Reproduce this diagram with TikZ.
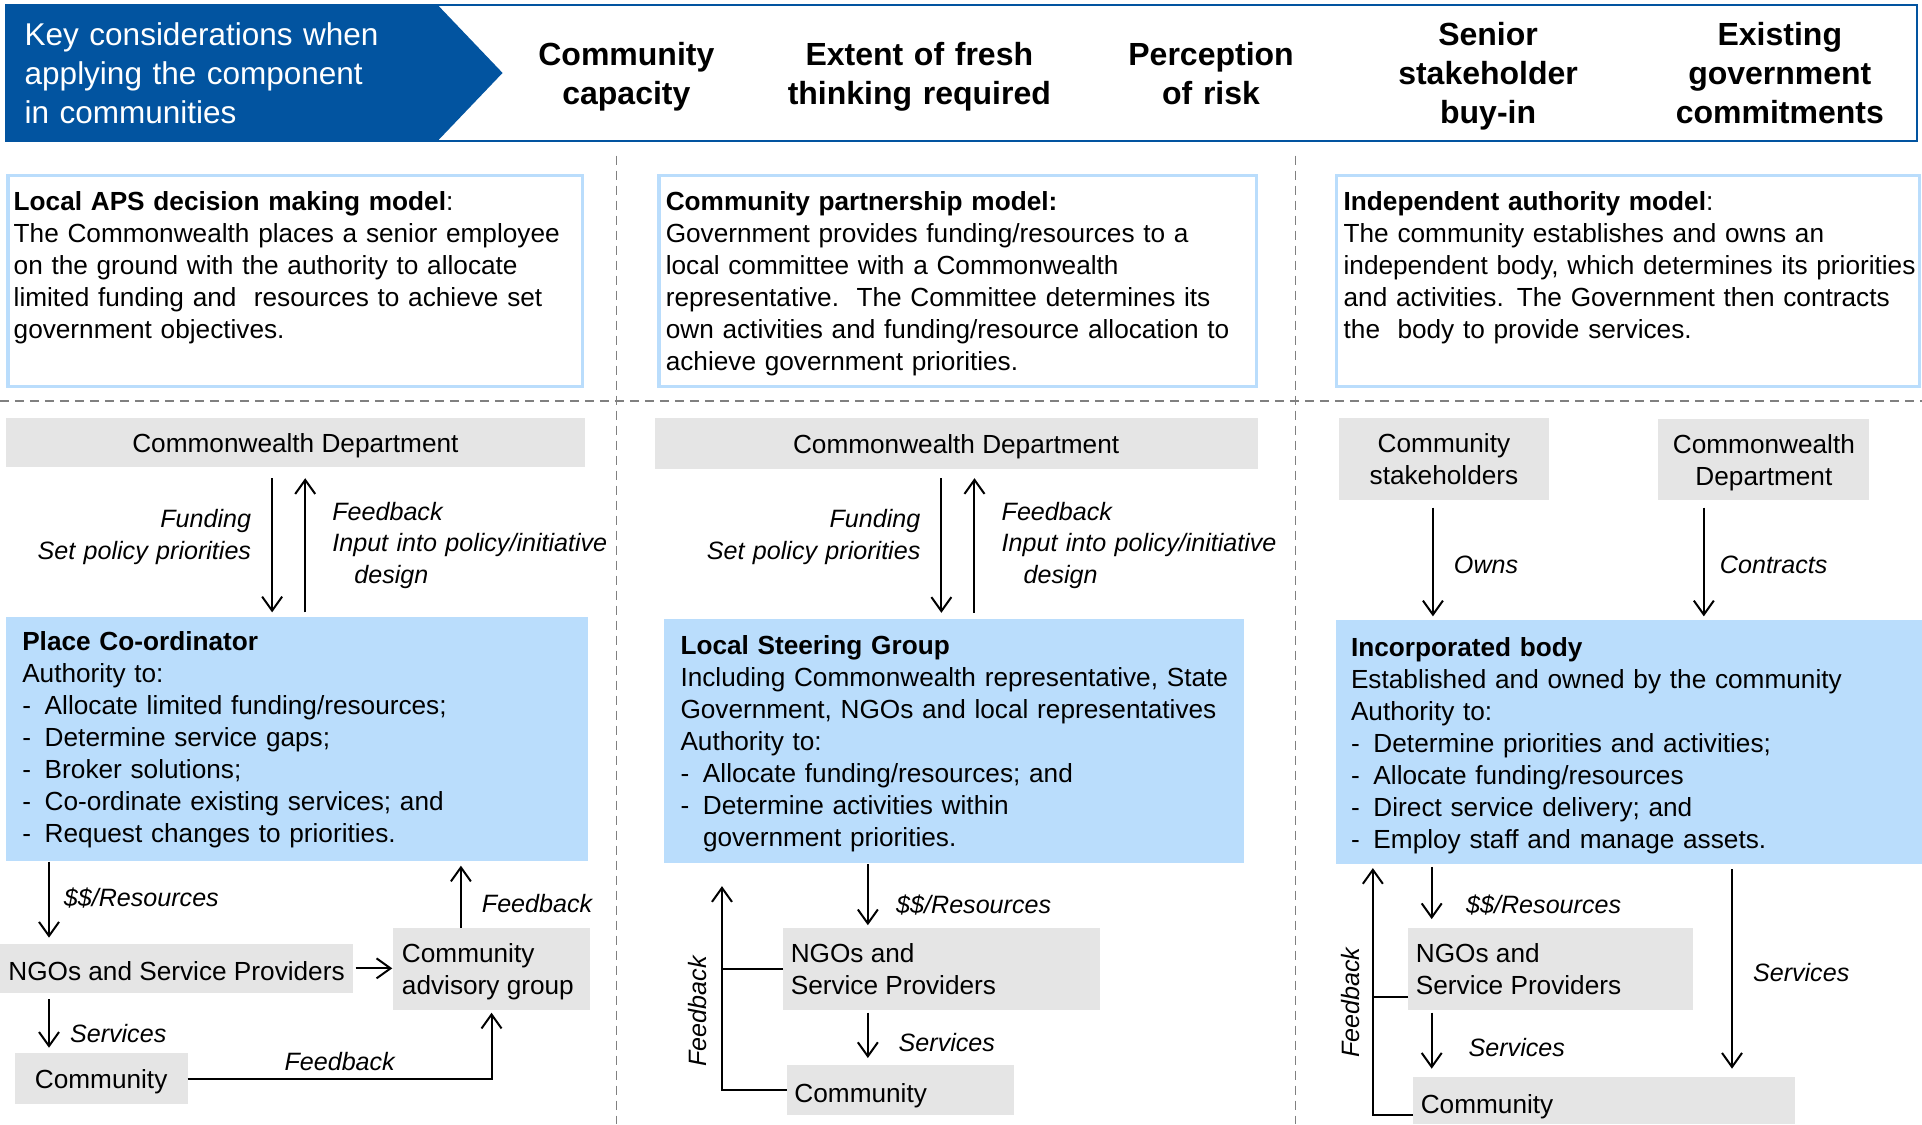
\documentclass[tikz,border=0pt]{standalone}
\usepackage{fontspec}
\setmainfont{Liberation Sans}
\usetikzlibrary{arrows.meta,fit}

\definecolor{hdrblue}{RGB}{2,84,160}
\definecolor{paleblue}{RGB}{186,221,252}
\definecolor{boxgray}{RGB}{229,229,229}
\definecolor{dashgray}{RGB}{128,128,128}

\newcommand\dashitem[1]{\makebox[22.5pt][l]{-}#1}

\tikzset{
  graybox/.style={fill=boxgray, inner sep=0pt},
  bluebox/.style={fill=paleblue, inner sep=0pt},
  descbox/.style={draw=paleblue, line width=3.3pt, fill=white, inner sep=0pt},
  bodytext/.style={font=\fontsize{26.2pt}{32pt}\selectfont, inner sep=0pt, align=left, anchor=base west},
  boxlabel/.style={font=\fontsize{26.2pt}{32pt}\selectfont, inner sep=0pt, align=center},
  boxlabelleft/.style={font=\fontsize{26.2pt}{32pt}\selectfont, inner sep=0pt, align=left, anchor=west},
  lbl/.style={font=\fontsize{25.1pt}{31.5pt}\selectfont\itshape, inner sep=0pt, anchor=base west},
  colhdr/.style={font=\fontsize{32pt}{38.6pt}\selectfont\bfseries, inner sep=0pt, align=center, anchor=base, text width=270pt},
  arr/.style={line width=2pt, -{Straight Barb[length=14pt,width=20pt]}},
  link/.style={line width=2pt},
  divider/.style={dashgray, line width=1.6pt, dash pattern=on 9pt off 6pt},
}

\begin{document}
\begin{tikzpicture}[x=1.2258pt, y=-1.2258pt]
\useasboundingbox (0,0) rectangle (1568,917);
\fill[white] (0,0) rectangle (1568,917);

% ---------- header band ----------
\node[fit={(5,4) (1564,115)}, draw=hdrblue, line width=2.5pt, inner sep=0pt] (band) {};
\fill[hdrblue] (5,4) -- (357,4) -- (410,59.5) -- (357,115) -- (5,115) -- cycle;
\node[inner sep=0pt, anchor=base west, align=left, text width=420pt, text=white,
      font=\fontsize{31.5pt}{38.6pt}\selectfont] (keyt) at (20,37.4)
  {Key considerations when\\applying the component\\in communities};
\node[colhdr] (h1) at (511,53.4) {Community\\capacity};
\node[colhdr] (h2) at (750,53.4) {Extent of fresh\\thinking required};
\node[colhdr] (h3) at (988,53.4) {Perception\\of risk};
\node[colhdr] (h4) at (1214,37.4) {Senior\\stakeholder\\buy-in};
\node[colhdr] (h5) at (1452,37.4) {Existing\\government\\commitments};

% ---------- dividers ----------
\draw[divider] (503,127) -- (503,917);
\draw[divider] (1057,127) -- (1057,917);
\draw[divider] (0,327) -- (1568,327);

% ---------- model descriptions ----------
\node[descbox, fit={(6.5,143) (475,315.5)}] (d1) {};
\node[descbox, fit={(537.5,143) (1025,315.5)}] (d2) {};
\node[descbox, fit={(1090.5,143) (1566,315.5)}] (d3) {};
\node[bodytext, text width=640pt] (d1t) at (11,171.8)
  {\textbf{Local APS decision making model}:\\
   The Commonwealth places a senior employee\\
   on the ground with the authority to allocate\\
   limited funding and\ \ resources to achieve set\\
   government objectives.};
\node[bodytext, text width=640pt] (d2t) at (543,171.8)
  {\textbf{Community partnership model:}\\
   Government provides funding/resources to a\\
   local committee with a Commonwealth\\
   representative.\ \ The Committee determines its\\
   own activities and funding/resource allocation to\\
   achieve government priorities.};
\node[bodytext, text width=640pt] (d3t) at (1096,171.8)
  {\textbf{Independent authority model}:\\
   The community establishes and owns an\\
   independent body, which determines its priorities\\
   and activities. The Government then contracts\\
   the\ \ body to provide services.};

% ---------- column 1: local APS decision making ----------
\node[graybox, fit={(5,341) (477,381)}] (cd1) {};
\node[boxlabel] (cd1t) at ([yshift=-3.5pt]cd1.center) {Commonwealth Department};
\node[bluebox, fit={(5,503) (480,702)}] (pc) {};
\node[bodytext, text width=600pt] (pct) at (18,530.8)
  {\textbf{Place Co-ordinator}\\
   Authority to:\\
   \dashitem{Allocate limited funding/resources;}\\
   \dashitem{Determine service gaps;}\\
   \dashitem{Broker solutions;}\\
   \dashitem{Co-ordinate existing services; and}\\
   \dashitem{Request changes to priorities.}};
\node[graybox, fit={(0,770) (288,810)}] (ngo1) {};
\node[boxlabel] (ngo1t) at ([yshift=-2.5pt]ngo1.center) {NGOs and Service Providers};
\node[graybox, fit={(321,757) (481,824)}] (cag) {};
\node[boxlabelleft] (cagt) at ([xshift=8.5pt,yshift=-2.5pt]cag.west) {Community\\advisory group};
\node[graybox, fit={(12,859) (153,901)}] (com1) {};
\node[boxlabel] (com1t) at ([yshift=-3.5pt]com1.center) {Community};

\coordinate (a1) at (222,0);
\coordinate (b1) at (249,0);
\coordinate (c1) at (40,0);
\coordinate (e1) at (376,0);
\draw[arr, shorten <=11pt, shorten >=4pt] (cd1.south -| a1) -- (pc.north -| a1);
\draw[arr, shorten <=4pt, shorten >=11pt] (pc.north -| b1) -- (cd1.south -| b1);
\draw[arr, shorten <=1pt, shorten >=6pt] (pc.south -| c1) -- (ngo1.north -| c1);
\draw[arr, shorten <=2.5pt, shorten >=1pt] (ngo1.east) -- (ngo1.east -| cag.west);
\draw[arr, shorten >=5pt] (cag.north -| e1) -- (pc.south -| e1);
\draw[arr, shorten <=6pt, shorten >=5pt] (ngo1.south -| c1) -- (com1.north -| c1);
\draw[arr, shorten >=2.5pt] (com1.east) -| (cag.south);

\node[lbl, anchor=base east, text width=240pt, align=right] (l1a) at (205,430.5)
  {Funding\\Set policy priorities};
\node[lbl, text width=290pt, align=left] (l1b) at (271,424.5)
  {Feedback\\Input into policy/initiative\\\hspace*{22pt}design};
\node[lbl] (l1c) at (52,739.5) {\$\$/Resources};
\node[lbl] (l1d) at (393,744.5) {Feedback};
\node[lbl] (l1e) at (57,850.5) {Services};
\node[lbl] (l1f) at (232,873.5) {Feedback};

% ---------- column 2: community partnership ----------
\node[graybox, fit={(534,341) (1026,383)}] (cd2) {};
\node[boxlabel] (cd2t) at ([yshift=-3pt]cd2.center) {Commonwealth Department};
\node[bluebox, fit={(542,505) (1015,704)}] (lsg) {};
\node[bodytext, text width=600pt] (lsgt) at (555,533.8)
  {\textbf{Local Steering Group}\\
   Including Commonwealth representative, State\\
   Government, NGOs and local representatives\\
   Authority to:\\
   \dashitem{Allocate funding/resources; and}\\
   \dashitem{Determine activities within}\\
   \hspace*{22.5pt}government priorities.};
\node[graybox, fit={(639,757) (897,824)}] (ngo2) {};
\node[boxlabelleft] (ngo2t) at ([xshift=7.5pt]ngo2.west) {NGOs and\\Service Providers};
\node[graybox, fit={(642,869) (827,910)}] (com2) {};
\node[boxlabelleft] (com2t) at ([xshift=7.5pt,yshift=-5pt]com2.west) {Community};

\coordinate (a2) at (768,0);
\coordinate (b2) at (795,0);
\coordinate (c2) at (708,0);
\coordinate (f2) at (589,0);
\draw[arr, shorten <=8.5pt, shorten >=6pt] (cd2.south -| a2) -- (lsg.north -| a2);
\draw[arr, shorten <=6pt, shorten >=8.5pt] (lsg.north -| b2) -- (cd2.south -| b2);
\draw[arr, shorten <=1pt, shorten >=2.5pt] (lsg.south -| c2) -- (ngo2.north -| c2);
\draw[arr, shorten <=2.5pt, shorten >=7pt] (ngo2.south -| c2) -- (com2.north -| c2);
\draw[arr, shorten >=23pt] (com2.west) -| (lsg.south -| f2);
\draw[link] (ngo2.west) -- (ngo2.west -| f2);

\node[lbl, anchor=base east, text width=240pt, align=right] (l2a) at (751,430.5)
  {Funding\\Set policy priorities};
\node[lbl, text width=290pt, align=left] (l2b) at (817,424.5)
  {Feedback\\Input into policy/initiative\\\hspace*{22pt}design};
\node[lbl] (l2c) at (731,745.5) {\$\$/Resources};
\node[lbl] (l2d) at (733,857.5) {Services};
\node[lbl, anchor=center, rotate=90] (l2e) at (569,825) {Feedback};

% ---------- column 3: independent authority ----------
\node[graybox, fit={(1092,341) (1264,408)}] (stk) {};
\node[boxlabel] (stkt) at (stk.center) {Community\\stakeholders};
\node[graybox, fit={(1353,342) (1525,408)}] (cd3) {};
\node[boxlabel] (cd3t) at ([yshift=-3pt]cd3.center) {Commonwealth\\Department};
\node[bluebox, fit={(1090,506) (1568,705)}] (inc) {};
\node[bodytext, text width=600pt] (inct) at (1102,535.8)
  {\textbf{Incorporated body}\\
   Established and owned by the community\\
   Authority to:\\
   \dashitem{Determine priorities and activities;}\\
   \dashitem{Allocate funding/resources}\\
   \dashitem{Direct service delivery; and}\\
   \dashitem{Employ staff and manage assets.}};
\node[graybox, fit={(1149,757) (1381,824)}] (ngo3) {};
\node[boxlabelleft] (ngo3t) at ([xshift=7.5pt]ngo3.west) {NGOs and\\Service Providers};
\node[graybox, fit={(1153,879) (1464,917)}] (com3) {};
\node[boxlabelleft] (com3t) at ([xshift=7.5pt,yshift=-6pt]com3.west) {Community};

\coordinate (a3) at (1169,0);
\coordinate (b3) at (1390,0);
\coordinate (c3) at (1168,0);
\coordinate (e3) at (1413,0);
\coordinate (f3) at (1120,0);
\draw[arr, shorten <=7.4pt, shorten >=3.7pt] (stk.south -| a3) -- (inc.north -| a3);
\draw[arr, shorten <=7.4pt, shorten >=3.7pt] (cd3.south -| b3) -- (inc.north -| b3);
\draw[arr, shorten <=2.5pt, shorten >=8.6pt] (inc.south -| c3) -- (ngo3.north -| c3);
\draw[arr, shorten <=2.5pt, shorten >=8.6pt] (ngo3.south -| c3) -- (com3.north -| c3);
\draw[arr, shorten <=5pt, shorten >=8.6pt] (inc.south -| e3) -- (com3.north -| e3);
\draw[arr, shorten >=3.7pt] ([yshift=-14.7pt]com3.west) -| (inc.south -| f3);
\draw[link] ([yshift=13.5pt]ngo3.south west) -- ([yshift=13.5pt]ngo3.south west -| f3);

\node[lbl] (l3a) at (1186,467.5) {Owns};
\node[lbl] (l3b) at (1403,467.5) {Contracts};
\node[lbl] (l3c) at (1196,745.5) {\$\$/Resources};
\node[lbl] (l3d) at (1198,861.5) {Services};
\node[lbl] (l3e) at (1430,800.5) {Services};
\node[lbl, anchor=center, rotate=90] (l3f) at (1102,818) {Feedback};
\end{tikzpicture}
\end{document}
